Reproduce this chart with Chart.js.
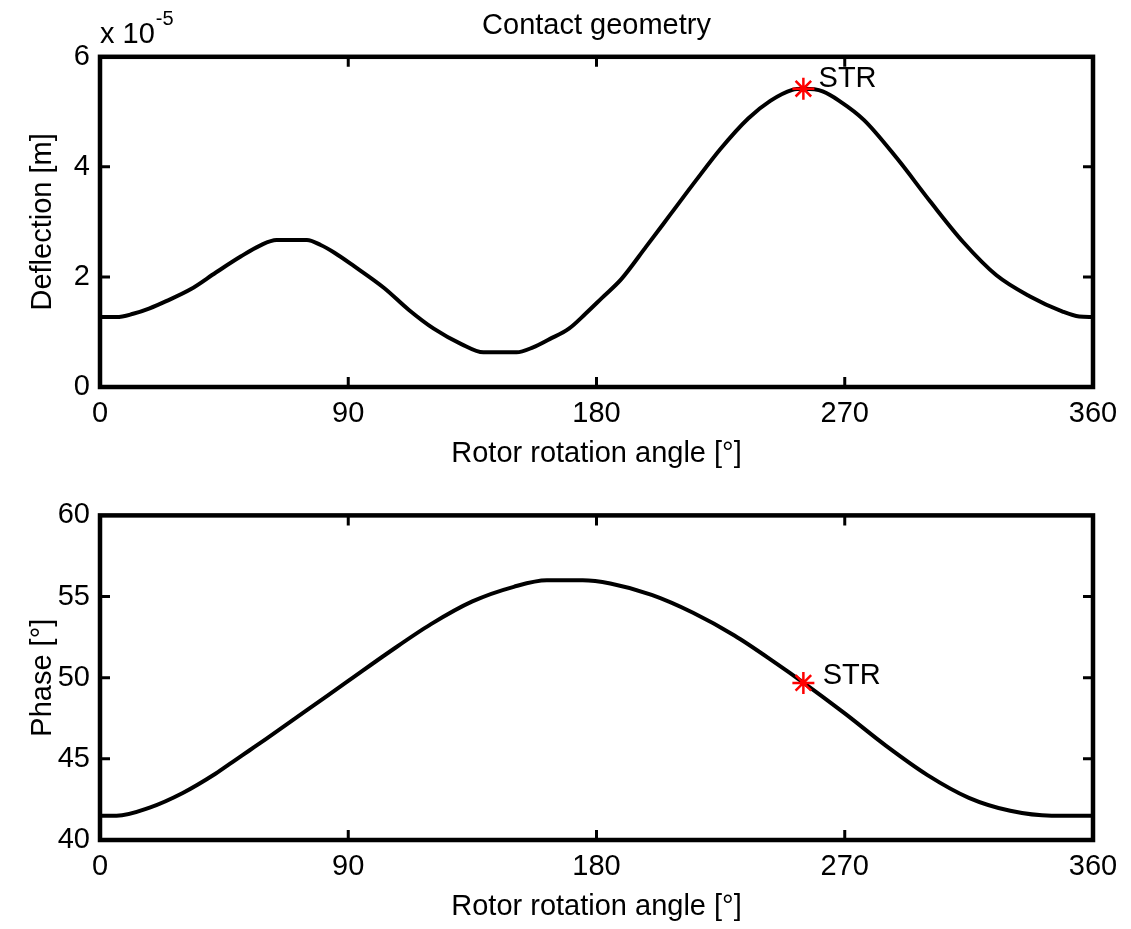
<!DOCTYPE html>
<html>
<head>
<meta charset="utf-8">
<title>Contact geometry</title>
<script src="https://cdn.jsdelivr.net/npm/chart.js@4.4.1/dist/chart.umd.min.js"></script>
<style>
  html, body { margin: 0; padding: 0; background: #fff; }
  body { width: 1131px; height: 929px; position: relative; overflow: hidden; }
  .plot { position: absolute; left: 0; width: 1131px; }
  #topWrap { top: 0; height: 488px; }
  #bottomWrap { top: 488px; height: 441px; }
</style>
</head>
<body>
<div class="plot" id="topWrap"><canvas id="deflectionChart"></canvas></div>
<div class="plot" id="bottomWrap"><canvas id="phaseChart"></canvas></div>
<script>
// rotor angle [deg] and deflection [x 1e-5 m]
const deflectionAngles = [0, 6, 12, 18, 24, 33, 42, 51, 58, 64, 75, 80, 85, 92, 103, 112, 121, 131, 139, 151,
  157, 163, 170, 176, 182, 189, 198, 207, 216, 225, 235, 243, 251, 255, 259, 262, 268, 277, 289, 301,
  313, 325, 337, 349, 355, 360];
const deflectionValues = [1.27, 1.27, 1.33, 1.43, 1.56, 1.78, 2.08, 2.37, 2.57, 2.67, 2.67, 2.58, 2.44, 2.20, 1.80, 1.40, 1.06, 0.78, 0.63, 0.63,
  0.72, 0.87, 1.06, 1.33, 1.62, 1.96, 2.55, 3.15, 3.75, 4.33, 4.88, 5.20, 5.40, 5.42, 5.41, 5.37, 5.20, 4.85, 4.15, 3.37,
  2.63, 2.03, 1.65, 1.37, 1.28, 1.27];

// rotor angle [deg] and phase [deg], bottom plot
const phaseAngles = [0, 6, 18, 30, 42, 48, 54, 60, 75, 90, 105, 120, 135, 150, 162, 175, 185, 200, 215, 230, 245,
  255, 270, 285, 300, 315, 330, 345, 360];
const phaseValues = [41.5, 41.5, 42.0, 42.9, 44.1, 44.8, 45.5, 46.2, 48.0, 49.8, 51.6, 53.3, 54.7, 55.6, 56.0, 56.0, 55.8, 55.1, 54.0, 52.6, 50.9,
  49.7, 47.8, 45.8, 44.0, 42.6, 41.8, 41.5, 41.5];

// STR markers
const strAngle = 255;
const strDeflection = 5.42;
const strPhase = 49.68;
const strDeflectionLabel = { x: 260.5, y: 5.45, text: "STR" };
const strPhaseLabel = { x: 262.0, y: 49.6, text: "STR" };

const angleTicks = [0, 90, 180, 270, 360];
const deflectionTicks = [0, 2, 4, 6];
const phaseTicks = [40, 45, 50, 55, 60];

const FONT = "'Liberation Sans', Arial, Helvetica, sans-serif";

function toPoints(xs, ys) {
  return xs.map((x, i) => ({ x: x, y: ys[i] }));
}

// MATLAB-like box with inward ticks on all four sides
const matlabBox = {
  id: "matlabBox",
  beforeDatasetsDraw(chart) {
    const { ctx, chartArea } = chart;
    const xs = chart.scales.x;
    const ys = chart.scales.y;
    const len = 10;
    ctx.save();
    ctx.strokeStyle = "#000";
    ctx.lineWidth = 3;
    ctx.beginPath();
    xs.ticks.forEach((t) => {
      const px = xs.getPixelForValue(t.value);
      ctx.moveTo(px, chartArea.bottom);
      ctx.lineTo(px, chartArea.bottom - len);
      ctx.moveTo(px, chartArea.top);
      ctx.lineTo(px, chartArea.top + len);
    });
    ys.ticks.forEach((t) => {
      const py = ys.getPixelForValue(t.value);
      ctx.moveTo(chartArea.left, py);
      ctx.lineTo(chartArea.left + len, py);
      ctx.moveTo(chartArea.right, py);
      ctx.lineTo(chartArea.right - len, py);
    });
    ctx.stroke();
    ctx.lineWidth = 4.5;
    ctx.strokeRect(chartArea.left, chartArea.top, chartArea.right - chartArea.left, chartArea.bottom - chartArea.top);
    ctx.restore();
  },
  afterDatasetsDraw(chart, args, opts) {
    if (!opts.label) return;
    const { ctx } = chart;
    const px = chart.scales.x.getPixelForValue(opts.label.x);
    const py = chart.scales.y.getPixelForValue(opts.label.y);
    ctx.save();
    ctx.fillStyle = "#000";
    ctx.font = "29px " + FONT;
    ctx.textAlign = "left";
    ctx.textBaseline = "alphabetic";
    ctx.fillText(opts.label.text, px, py);
    if (opts.exponent) {
      const left = chart.chartArea.left;
      ctx.fillText("x 10", left, 43);
      const w = ctx.measureText("x 10").width;
      ctx.font = "20px " + FONT;
      ctx.fillText(opts.exponent, left + w + 1, 25);
    }
    ctx.restore();
  },
};

function buildChart(canvasId, cfg) {
  return new Chart(document.getElementById(canvasId), {
    type: "line",
    data: {
      datasets: [
        {
          data: [{ x: strAngle, y: cfg.strValue }],
          showLine: false,
          pointStyle: "star",
          pointRadius: 11,
          pointBorderColor: "#ff0000",
          pointBorderWidth: 2.5,
          order: 1,
        },
        {
          data: toPoints(cfg.angles, cfg.values),
          borderColor: "#000",
          borderWidth: 4,
          pointRadius: 0,
          cubicInterpolationMode: "monotone",
          fill: false,
          order: 2,
        },
      ],
    },
    options: {
      responsive: true,
      maintainAspectRatio: false,
      animation: false,
      layout: { padding: { top: cfg.padTop, right: 38, left: 0, bottom: 0 } },
      plugins: {
        legend: { display: false },
        tooltip: { enabled: false },
        title: {
          display: !!cfg.title,
          text: cfg.title || "",
          fullSize: false,
          color: "#000",
          font: { family: FONT, size: 29, weight: "normal" },
          padding: { top: 9, bottom: 13 },
        },
        matlabBox: { label: cfg.label, exponent: cfg.exponent },
      },
      scales: {
        x: {
          type: "linear",
          min: 0,
          max: 360,
          afterBuildTicks: (scale) => { scale.ticks = angleTicks.map((v) => ({ value: v })); },
          afterFit: (scale) => { scale.height = cfg.xAxisHeight; },
          ticks: { color: "#000", font: { family: FONT, size: 29 }, padding: 10, maxRotation: 0 },
          grid: { display: false, drawTicks: false },
          border: { display: false },
          title: {
            display: true,
            text: "Rotor rotation angle [°]",
            color: "#000",
            font: { family: FONT, size: 29 },
            padding: { top: 0, bottom: cfg.xTitlePad },
          },
        },
        y: {
          type: "linear",
          min: cfg.yTicks[0],
          max: cfg.yTicks[cfg.yTicks.length - 1],
          afterBuildTicks: (scale) => { scale.ticks = cfg.yTicks.map((v) => ({ value: v })); },
          afterFit: (scale) => { scale.width = 100; },
          ticks: { color: "#000", font: { family: FONT, size: 29 }, padding: 10 },
          grid: { display: false, drawTicks: false },
          border: { display: false },
          title: {
            display: true,
            text: cfg.yTitle,
            color: "#000",
            font: { family: FONT, size: 29 },
            padding: { top: 26, bottom: 0 },
          },
        },
      },
    },
    plugins: [matlabBox],
  });
}

buildChart("deflectionChart", {
  title: "Contact geometry",
  angles: deflectionAngles,
  values: deflectionValues,
  strValue: strDeflection,
  label: strDeflectionLabel,
  exponent: "-5",
  yTicks: deflectionTicks,
  yTitle: "Deflection [m]",
  padTop: 0,
  xAxisHeight: 101,
  xTitlePad: 17,
});

buildChart("phaseChart", {
  title: null,
  angles: phaseAngles,
  values: phaseValues,
  strValue: strPhase,
  label: strPhaseLabel,
  exponent: null,
  yTicks: phaseTicks,
  yTitle: "Phase [°]",
  padTop: 21,
  xAxisHeight: 89,
  xTitlePad: 5,
});
</script>
</body>
</html>
